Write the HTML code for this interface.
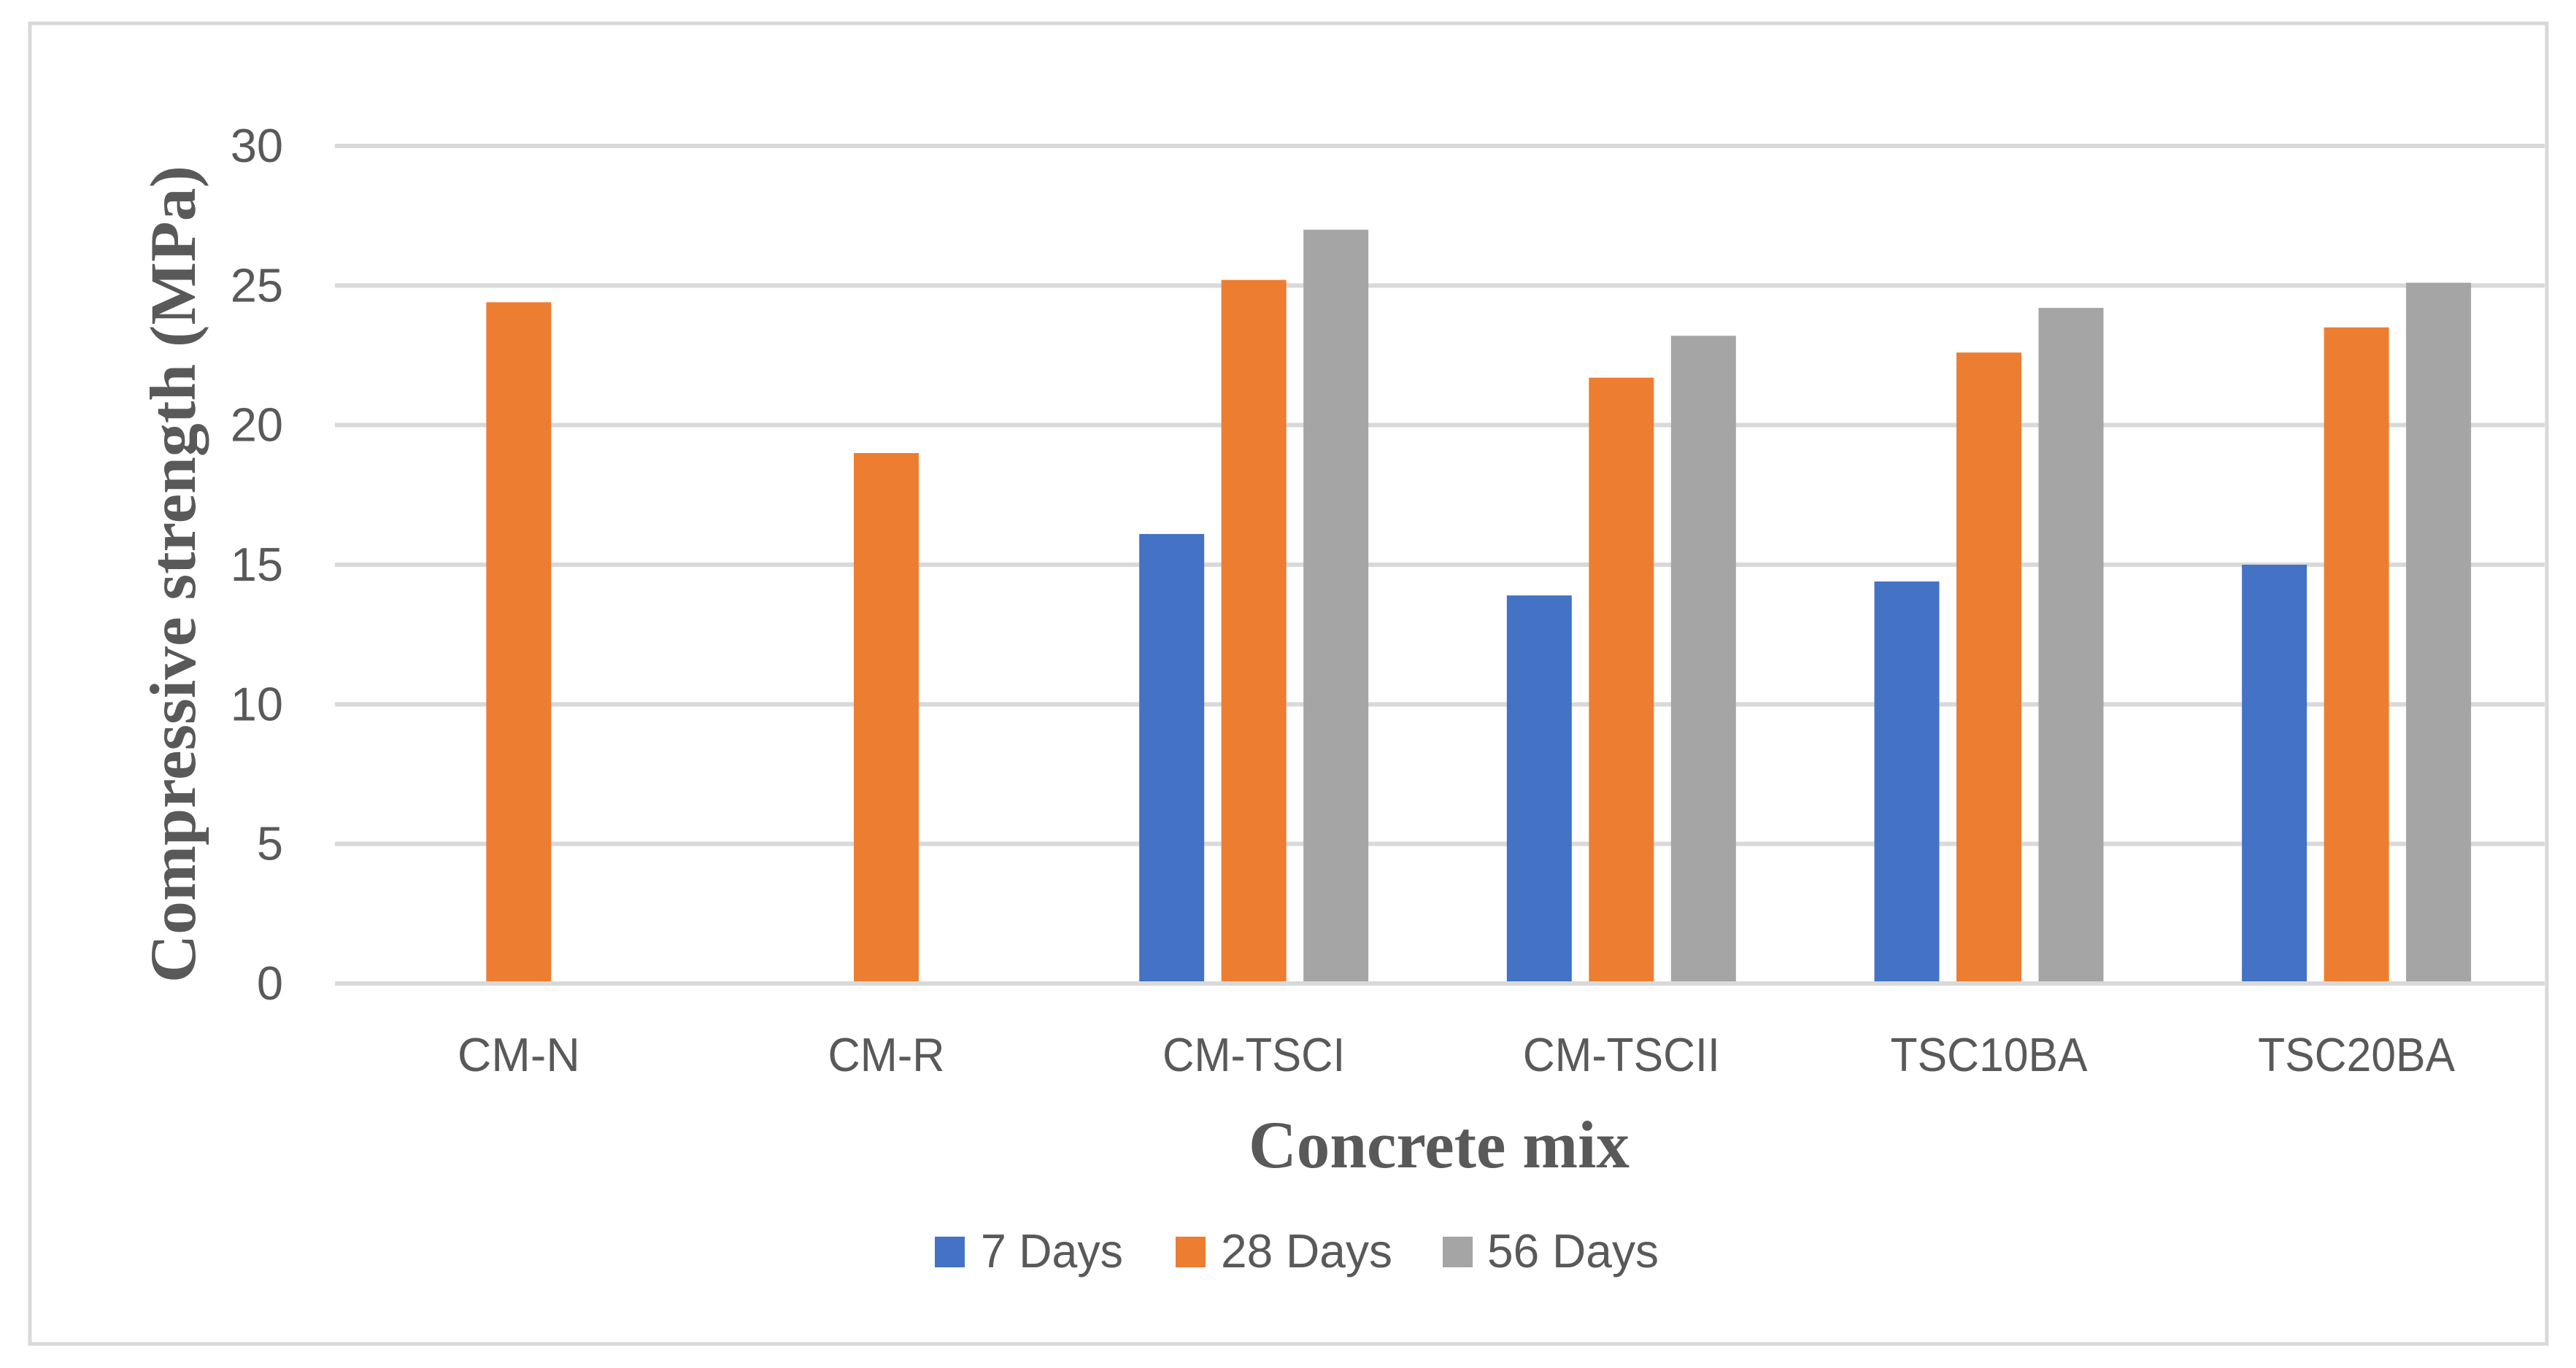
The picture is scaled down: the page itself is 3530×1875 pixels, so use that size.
<!DOCTYPE html>
<html><head><meta charset="utf-8"><style>
html,body{margin:0;padding:0;background:#fff;}
svg{display:block;}
</style></head><body>
<svg id="chart" width="3530" height="1875" viewBox="0 0 3530 1875" xmlns="http://www.w3.org/2000/svg">
<rect x="41" y="32" width="3449" height="1810" fill="#fff" stroke="#D9D9D9" stroke-width="5"/>
<g id="grid"></g><g id="bars"></g><g id="labels"></g>
<text transform="translate(267,787) rotate(-90)" text-anchor="middle" font-family="Liberation Serif, serif" font-weight="bold" font-size="89" fill="#595959" textLength="1120" lengthAdjust="spacingAndGlyphs">Compressive strength (MPa)</text>
<text x="1972" y="1600" text-anchor="middle" font-family="Liberation Serif, serif" font-weight="bold" font-size="92" fill="#595959" textLength="522" lengthAdjust="spacingAndGlyphs">Concrete mix</text>
<g font-family="Liberation Sans, sans-serif" font-size="65" fill="#595959">
<rect x="1281" y="1695" width="41" height="42" fill="#4472C4"/>
<text x="1344" y="1737" textLength="195" lengthAdjust="spacingAndGlyphs">7 Days</text>
<rect x="1611" y="1695" width="41" height="42" fill="#ED7D31"/>
<text x="1673" y="1737" textLength="235" lengthAdjust="spacingAndGlyphs">28 Days</text>
<rect x="1977" y="1695" width="41" height="42" fill="#A5A5A5"/>
<text x="2038" y="1737" textLength="235" lengthAdjust="spacingAndGlyphs">56 Days</text>
</g>
</svg>
<script>
const categories = ["CM-N","CM-R","CM-TSCI","CM-TSCII","TSC10BA","TSC20BA"];
const days7 = [null, null, 16.1, 13.9, 14.4, 15.0];
const days28 = [24.4, 19.0, 25.2, 21.7, 22.6, 23.5];
const days56 = [null, null, 27.0, 23.2, 24.2, 25.1];
const yTicks = [0,5,10,15,20,25,30];
const catWidths = [168,160,250,270,270,270];

const NS="http://www.w3.org/2000/svg";
const x0=459, x1=3481, y0=1348, yTop=200, yMax=30;
const yScale=v=>y0-(v/yMax)*(y0-yTop);
const bandW=(x1-x0)/categories.length;
const xCenter=i=>x0+bandW*(i+0.5);
const barW=89, pitch=112.5;
function mk(tag,attrs,parent){const e=document.createElementNS(NS,tag);for(const k in attrs)e.setAttribute(k,attrs[k]);parent.appendChild(e);return e;}
const grid=document.getElementById('grid'),bars=document.getElementById('bars'),labels=document.getElementById('labels');
yTicks.forEach(t=>{
  const y=yScale(t);
  const l=mk('line',{x1:x0,x2:3487,y1:y,y2:y,stroke:'#D9D9D9','stroke-width':6},grid);
  
  
  const tx=mk('text',{x:388,y:y+22,'text-anchor':'end','font-family':'Liberation Sans, sans-serif','font-size':65,fill:'#595959'},labels);
  tx.textContent=t;
  
  
});
const series=[[days7,'#4472C4','7-days'],[days28,'#ED7D31','28-days'],[days56,'#A5A5A5','56-days']];
categories.forEach((c,i)=>{
  series.forEach(([arr,col,nm],s)=>{
    const v=arr[i]; if(v==null)return;
    const cx=xCenter(i)+(s-1)*pitch;
    const r=mk('rect',{x:cx-barW/2,y:yScale(v),width:barW,height:y0-3-yScale(v),fill:col},bars);
    
    
  });
  const tx=mk('text',{x:xCenter(i),y:1468,'text-anchor':'middle','font-family':'Liberation Sans, sans-serif','font-size':65,fill:'#595959',textLength:catWidths[i],lengthAdjust:'spacingAndGlyphs'},labels);
  tx.textContent=c;
  
  
});
</script>
</body></html>
